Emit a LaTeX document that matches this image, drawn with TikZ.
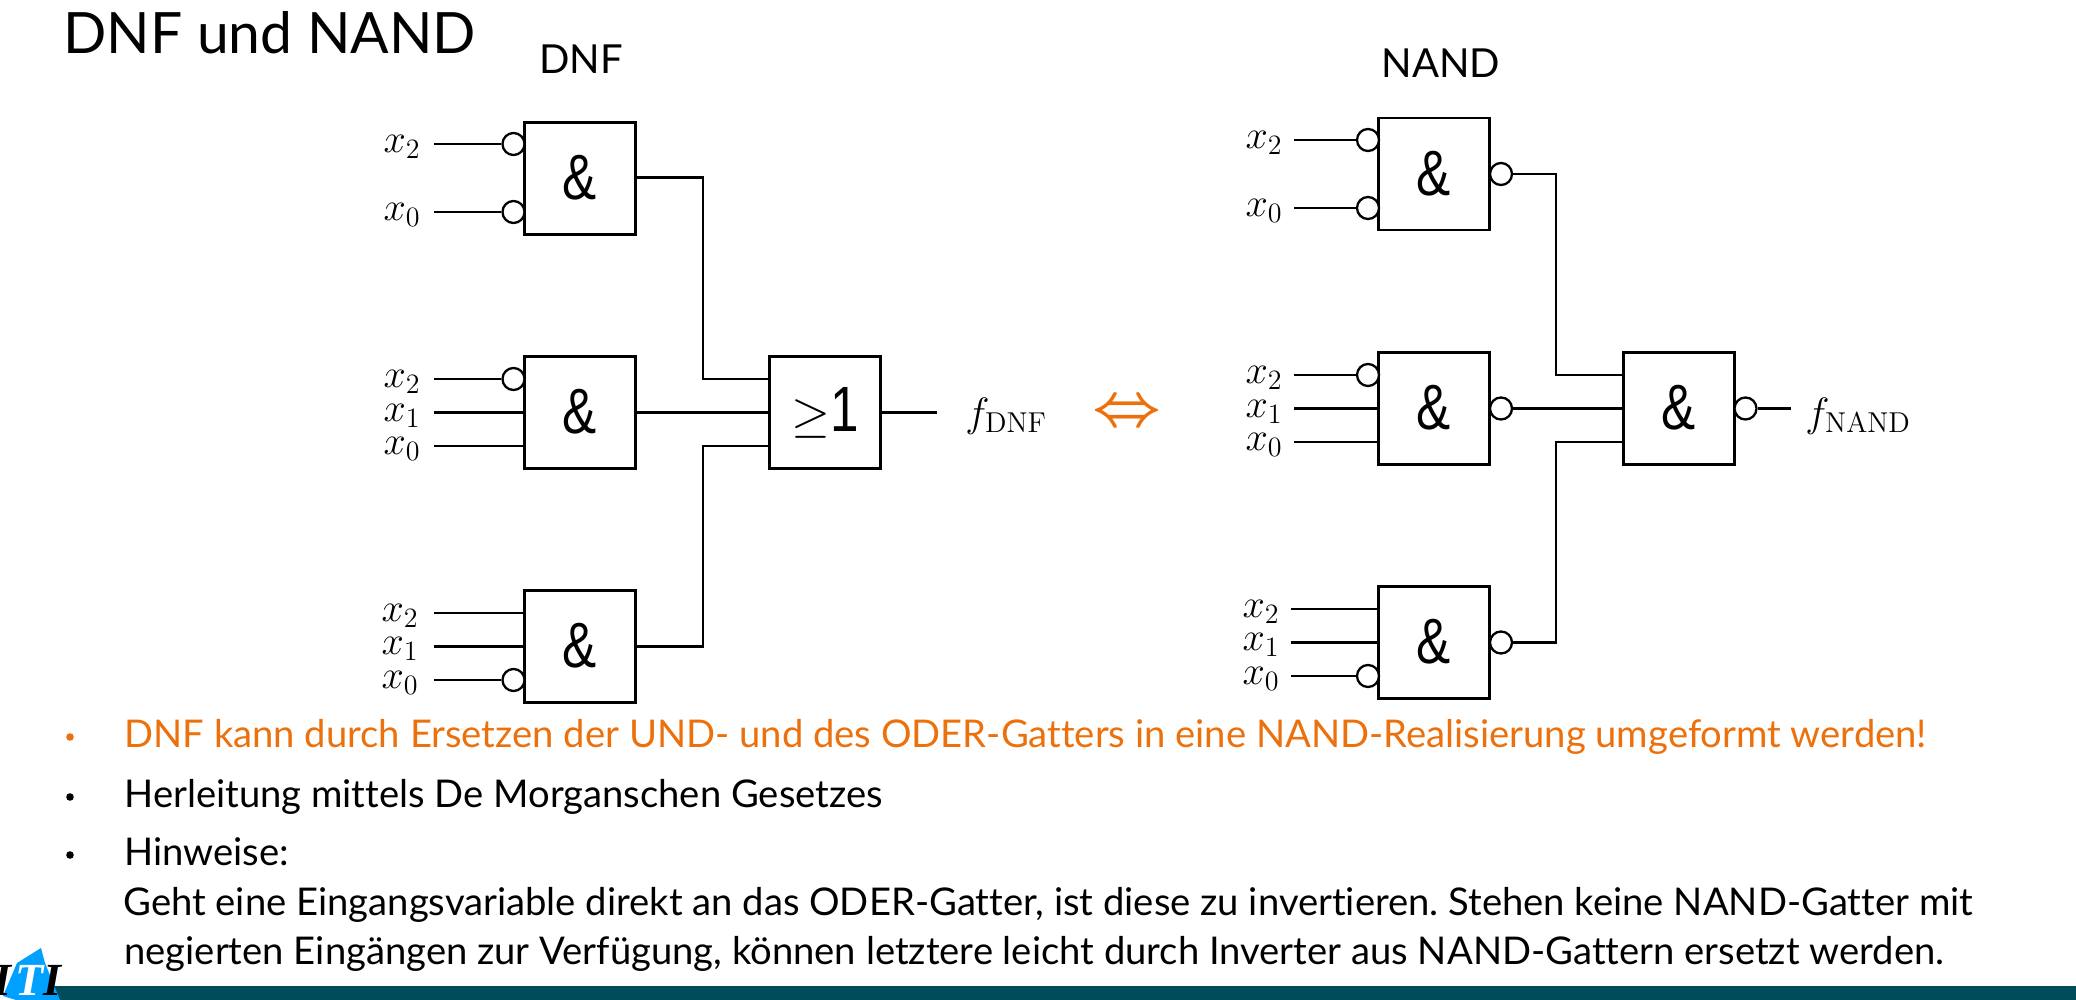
\documentclass[tikz,border=0pt]{standalone}
\usepackage{fix-cm}
\usepackage[no-math]{fontspec}
\setmainfont[Ligatures=NoCommon]{Lato}
\newfontfamily\gatefont[FakeStretch=0.8]{Liberation Sans}
\newfontfamily\logofont{Liberation Serif}
\usepackage{xcolor}
\definecolor{bulletorange}{RGB}{236,112,12}
\definecolor{bardark}{RGB}{0,76,90}
\definecolor{logoblue}{RGB}{0,160,255}
\newcommand{\andsym}{\raisebox{1pt}{\&}}
\frenchspacing
\tikzset{
    gate/.style={draw, rectangle, line width=2.3*0.5pt, minimum width=55.5pt, minimum height=56pt, inner sep=0pt, font=\gatefont\fontsize{32}{32}\selectfont},
    bubble/.style={draw, circle, line width=2.3*0.5pt, minimum size=11pt, inner sep=0pt, fill=white},
    wire/.style={line width=2.3*0.5pt},
    invar/.style={inner sep=0pt, font=\fontsize{20}{20}\selectfont},
    outvar/.style={anchor=base west, inner sep=0pt, font=\fontsize{20.5}{20.5}\selectfont},
    heading/.style={anchor=base, inner sep=0pt, font=\fontsize{20}{24}\selectfont},
    body/.style={anchor=base west, inner sep=0pt, font=\fontsize{19.1}{19.1}\selectfont},
    mark-dot/.style={circle, inner sep=0pt, minimum size=3.8pt, fill=#1},
    logo-letter/.style={anchor=base, inner sep=0pt, font=\logofont\fontsize{23}{23}\selectfont\bfseries\itshape},
}
\begin{document}
\begin{tikzpicture}[x=0.5pt, y=-0.5pt]
      \useasboundingbox (0,0) rectangle (2076,1000);

      \node[anchor=base west, inner sep=0pt, font=\fontsize{28.5}{28.5}\selectfont] (title) at (63,54) {DNF und NAND};
      \node[heading] (dnf-heading) at (581,74) {DNF};
      \node[heading] (nand-heading) at (1441,78) {NAND};

      \node[gate] (dnf-and-a) at (580,178.5) {\andsym};
      \node[gate] (dnf-and-b) at (580,412.5) {\andsym};
      \node[gate] (dnf-and-c) at (580,646.5) {\andsym};
      \node[gate] (dnf-or) at (825,412.5) {{\fontsize{25}{25}\selectfont$\geq$}1};

      \node[bubble] (dnf-a-x2-neg) at (513.5,144) {};
      \node[bubble] (dnf-a-x0-neg) at (513.5,212) {};
      \node[bubble] (dnf-b-x2-neg) at (513.5,379) {};
      \node[bubble] (dnf-c-x0-neg) at (513.5,680) {};

      \node[invar] (dnf-a-x2) at (402,147) {$x_2$};
      \node[invar] (dnf-a-x0) at (402,215) {$x_0$};
      \node[invar] (dnf-b-x2) at (402,382) {$x_2$};
      \node[invar] (dnf-b-x1) at (402,416) {$x_1$};
      \node[invar] (dnf-b-x0) at (402,449) {$x_0$};
      \node[invar] (dnf-c-x2) at (400,616) {$x_2$};
      \node[invar] (dnf-c-x1) at (400,649) {$x_1$};
      \node[invar] (dnf-c-x0) at (400,683) {$x_0$};

      \coordinate (dnf-a-x2-in) at (434,144);
      \coordinate (dnf-a-x0-in) at (434,212);
      \coordinate (dnf-b-x2-in) at (434,379);
      \coordinate (dnf-b-x1-in) at (434,412.5);
      \coordinate (dnf-b-x0-in) at (434,446);
      \coordinate (dnf-c-x2-in) at (434,613);
      \coordinate (dnf-c-x1-in) at (434,646.5);
      \coordinate (dnf-c-x0-in) at (434,680);

      \draw[wire] (dnf-a-x2-in) -- (dnf-a-x2-neg);
      \draw[wire] (dnf-a-x0-in) -- (dnf-a-x0-neg);
      \draw[wire] (dnf-b-x2-in) -- (dnf-b-x2-neg);
      \draw[wire] (dnf-b-x1-in) -- (dnf-b-x1-in -| dnf-and-b.west);
      \draw[wire] (dnf-b-x0-in) -- (dnf-b-x0-in -| dnf-and-b.west);
      \draw[wire] (dnf-c-x2-in) -- (dnf-c-x2-in -| dnf-and-c.west);
      \draw[wire] (dnf-c-x1-in) -- (dnf-c-x1-in -| dnf-and-c.west);
      \draw[wire] (dnf-c-x0-in) -- (dnf-c-x0-neg);

      \coordinate (dnf-or-in-a) at (769,379);
      \coordinate (dnf-or-in-c) at (769,446);
      \coordinate (dnf-bus-a) at (703,177.5);
      \coordinate (dnf-bus-c) at (703,646.5);
      \draw[wire] (dnf-and-a.east |- dnf-bus-a) -- (dnf-bus-a) -- (dnf-bus-a |- dnf-or-in-a) -- (dnf-or-in-a);
      \draw[wire] (dnf-and-b) -- (dnf-or);
      \draw[wire] (dnf-and-c) -- (dnf-bus-c) -- (dnf-bus-c |- dnf-or-in-c) -- (dnf-or-in-c);

      \coordinate (dnf-out) at (937,412.5);
      \draw[wire] (dnf-or) -- (dnf-out);
      \node[outvar] (f-dnf) at (965,426) {$f_{\mathrm{DNF}}$};

      \node[inner sep=0pt, text=bulletorange, font=\fontsize{30}{30}\selectfont\boldmath] (equiv) at (1127,414) {$\Leftrightarrow$};

      \node[gate] (nand-a) at (1434,174) {\andsym};
      \node[gate] (nand-b) at (1434,408.5) {\andsym};
      \node[gate] (nand-c) at (1434,642.5) {\andsym};
      \node[gate] (nand-final) at (1679,408.5) {\andsym};

      \node[bubble] (nand-a-x2-neg) at (1368,140) {};
      \node[bubble] (nand-a-x0-neg) at (1368,208) {};
      \node[bubble] (nand-b-x2-neg) at (1368,375) {};
      \node[bubble] (nand-c-x0-neg) at (1368,676) {};
      \node[bubble] (nand-a-out) at (1501,174) {};
      \node[bubble] (nand-b-out) at (1501,408.5) {};
      \node[bubble] (nand-c-out) at (1501,642.5) {};
      \node[bubble] (nand-final-out) at (1745.5,408.5) {};

      \node[invar] (nand-a-x2) at (1264,143) {$x_2$};
      \node[invar] (nand-a-x0) at (1264,211) {$x_0$};
      \node[invar] (nand-b-x2) at (1264,378) {$x_2$};
      \node[invar] (nand-b-x1) at (1264,412) {$x_1$};
      \node[invar] (nand-b-x0) at (1264,445) {$x_0$};
      \node[invar] (nand-c-x2) at (1261,612) {$x_2$};
      \node[invar] (nand-c-x1) at (1261,645) {$x_1$};
      \node[invar] (nand-c-x0) at (1261,679) {$x_0$};

      \coordinate (nand-a-x2-in) at (1294,140);
      \coordinate (nand-a-x0-in) at (1294,208);
      \coordinate (nand-b-x2-in) at (1294,375);
      \coordinate (nand-b-x1-in) at (1294,408.5);
      \coordinate (nand-b-x0-in) at (1294,442);
      \coordinate (nand-c-x2-in) at (1291,609);
      \coordinate (nand-c-x1-in) at (1291,642.5);
      \coordinate (nand-c-x0-in) at (1291,676);

      \draw[wire] (nand-a-x2-in) -- (nand-a-x2-neg);
      \draw[wire] (nand-a-x0-in) -- (nand-a-x0-neg);
      \draw[wire] (nand-b-x2-in) -- (nand-b-x2-neg);
      \draw[wire] (nand-b-x1-in) -- (nand-b-x1-in -| nand-b.west);
      \draw[wire] (nand-b-x0-in) -- (nand-b-x0-in -| nand-b.west);
      \draw[wire] (nand-c-x2-in) -- (nand-c-x2-in -| nand-c.west);
      \draw[wire] (nand-c-x1-in) -- (nand-c-x1-in -| nand-c.west);
      \draw[wire] (nand-c-x0-in) -- (nand-c-x0-neg);

      \coordinate (nand-final-in-a) at (1623,375);
      \coordinate (nand-final-in-c) at (1623,442);
      \coordinate (nand-bus-a) at (1556,174);
      \coordinate (nand-bus-c) at (1556,642.5);
      \draw[wire] (nand-a-out) -- (nand-bus-a) -- (nand-bus-a |- nand-final-in-a) -- (nand-final-in-a);
      \draw[wire] (nand-b-out) -- (nand-final);
      \draw[wire] (nand-c-out) -- (nand-bus-c) -- (nand-bus-c |- nand-final-in-c) -- (nand-final-in-c);

      \coordinate (nand-out) at (1791,408.5);
      \draw[wire] (nand-final-out) -- (nand-out);
      \node[outvar] (f-nand) at (1805,426) {$f_{\mathrm{NAND}}$};

      \node[mark-dot=bulletorange] (dot-a) at (70,737) {};
      \node[mark-dot=black] (dot-b) at (70,797) {};
      \node[mark-dot=black] (dot-c) at (70,855) {};
      \node[body, text=bulletorange] (line-a) at (124,747) {DNF kann durch Ersetzen der UND- und des ODER-Gatters in eine NAND-Realisierung umgeformt werden!};
      \node[body] (line-b) at (124,807) {Herleitung mittels De Morganschen Gesetzes};
      \node[body] (line-c) at (124,865) {Hinweise:};
      \node[body] (line-d) at (123,915) {Geht eine Eingangsvariable direkt an das ODER-Gatter, ist diese zu invertieren. Stehen keine NAND-Gatter mit};
      \node[body] (line-e) at (124,964) {negierten Eing\"angen zur Verf\"ugung, k\"onnen letztere leicht durch Inverter aus NAND-Gattern ersetzt werden.};

      \fill[bardark] (50,986) rectangle (2076,1000);
      \fill[logoblue] (41,948) -- (45,963) -- (60,1000) -- (16,1000) -- (3,996) -- (17,963) -- cycle;
      \node[logo-letter] (logo-left) at (2,995) {I};
      \node[logo-letter, text=white] (logo-t) at (30,995) {T};
      \node[logo-letter] (logo-right) at (52,995) {I};
\end{tikzpicture}
\end{document}
